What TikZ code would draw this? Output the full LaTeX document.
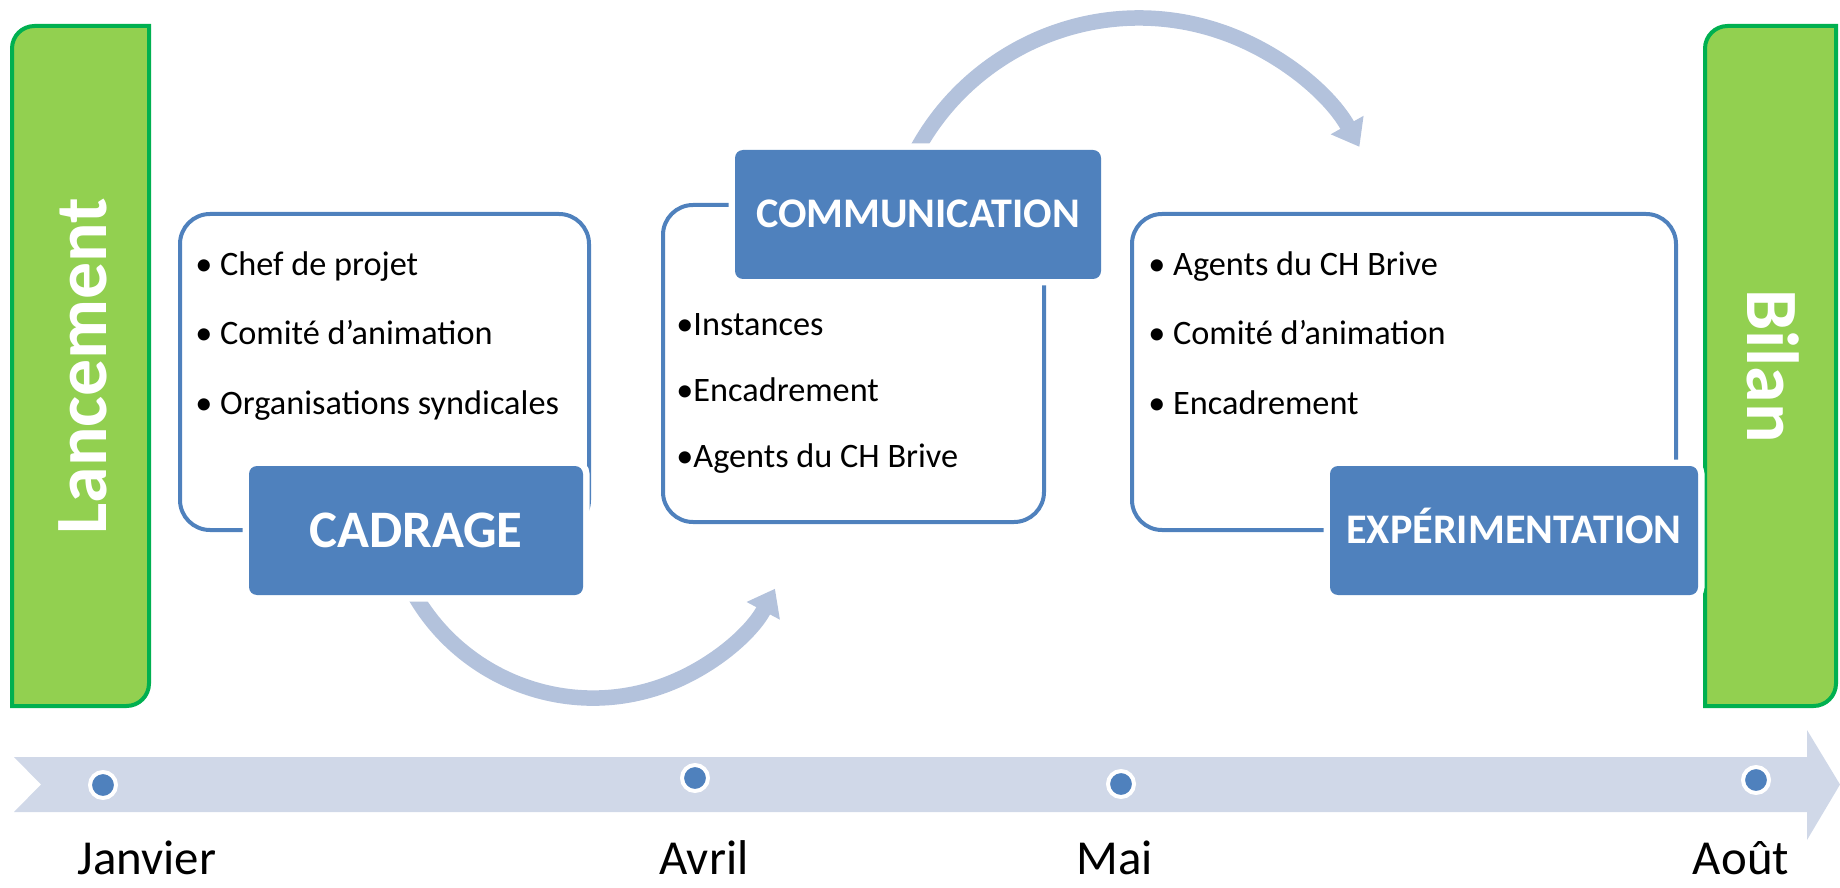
\documentclass[tikz,border=0pt]{standalone}
\usepackage{fontspec}
\setmainfont{Carlito}
\usetikzlibrary{arrows.meta, backgrounds}
\definecolor{boxblue}{HTML}{4F81BD}
\definecolor{barfill}{HTML}{92D050}
\definecolor{barborder}{HTML}{00B050}
\definecolor{turncolor}{HTML}{B3C2DC}
\definecolor{bandfill}{HTML}{D0D8E8}
\tikzset{
  groupframe/.style={rectangle, rounded corners=0.6cm, draw=boxblue, line width=0.08cm},
  phasetag/.style={rectangle, rounded corners=0.16cm, fill=boxblue, text=white, minimum height=2.58cm, inner sep=0pt, text depth=0pt, preaction={draw=white, line width=0.26cm}},
  bigtag/.style={phasetag, font=\fontsize{30}{36}\selectfont\bfseries, text height=19pt},
  smalltag/.style={phasetag, font=\fontsize{24}{28}\selectfont\bfseries, text height=15.2pt},
  items/.style={anchor=north west, align=left, inner sep=0pt, font=\fontsize{19.5}{39.7}\selectfont},
  milestone/.style={fill=barfill, draw=barborder, line width=0.08cm},
  milestone-title/.style={font=\fontsize{42}{50}\selectfont\bfseries, text=white, inner sep=0pt},
  turnarrow/.style={draw=turncolor, line width=0.31cm, -{Triangle[width=0.72cm, length=0.5cm]}},
  dot/.style={circle, fill=boxblue, draw=white, line width=0.08cm, minimum size=0.52cm, inner sep=0pt},
  month/.style={anchor=base, inner sep=0pt, font=\fontsize{27.8}{33}\selectfont}
}

\begin{document}
\begin{tikzpicture}
\useasboundingbox (0,0) rectangle (36.8,17.74);

% timeline
\fill[bandfill] (0.28,2.60) -- (36.14,2.60) -- (36.14,3.14) -- (36.8,2.05) -- (36.14,0.94) -- (36.14,1.50) -- (0.28,1.50) -- (0.82,2.05) -- cycle;

\node[dot] (janvierdot) at (2.06,2.04) {};
\node[dot] (avrildot) at (13.90,2.18) {};
\node[dot] (maidot) at (22.42,2.06) {};
\node[dot] (aoutdot) at (35.12,2.14) {};

\node[month] (janvier) at (2.94,0.26) {Janvier};
\node[month] (avril) at (14.08,0.26) {Avril};
\node[month] (mai) at (22.30,0.26) {Mai};
\node[month] (aout) at (34.82,0.26) {Août};

% start and end bars
\draw[milestone] (0.24,3.62) -- (0.24,16.77) arc[start angle=180, end angle=90, radius=0.45] -- (2.98,17.22) -- (2.98,4.07) arc[start angle=0, end angle=-90, radius=0.45] -- cycle;
\draw[milestone] (34.10,3.62) -- (34.10,16.77) arc[start angle=180, end angle=90, radius=0.45] -- (36.72,17.22) -- (36.72,4.07) arc[start angle=0, end angle=-90, radius=0.45] -- cycle;
\node[milestone-title, rotate=90] (lancement) at (1.65,10.42) {Lancement};
\node[milestone-title, rotate=-90] (bilan) at (35.47,10.42) {Bilan};

% phases
\node[groupframe, minimum width=8.18cm, minimum height=6.32cm] (cadrageframe) at (7.69,10.30) {};
\node[groupframe, minimum width=7.62cm, minimum height=6.34cm] (commframe) at (17.07,10.47) {};
\node[groupframe, minimum width=10.88cm, minimum height=6.32cm] (expframe) at (28.08,10.30) {};

\node[bigtag, minimum width=6.68cm] (cadrage) at (8.32,7.13) {CADRAGE};
\node[smalltag, minimum width=7.32cm] (comm) at (18.36,13.45) {COMMUNICATION};
\node[smalltag, minimum width=7.36cm] (exp) at (30.28,7.13) {EXPÉRIMENTATION};

\node[items] (cadrageitems) at (3.90,12.72) {• Chef de projet\\• Comité d’animation\\• Organisations syndicales};
\node[items, font=\fontsize{19.5}{37.7}\selectfont] (commitems) at (13.52,11.48) {•Instances\\•Encadrement\\•Agents du CH Brive};
\node[items] (expitems) at (22.96,12.72) {• Agents du CH Brive\\• Comité d’animation\\• Encadrement};

\begin{pgfonlayer}{background}
  \draw[turnarrow] ([shift={(-0.33,-0.64)}]cadrage.center) arc[start angle=200, end angle=332, radius=4.12];
  \draw[turnarrow] ([shift={(-0.335,0.60)}]comm.center) arc[start angle=160, end angle=29.4, radius=5.06];
\end{pgfonlayer}

\end{tikzpicture}
\end{document}
